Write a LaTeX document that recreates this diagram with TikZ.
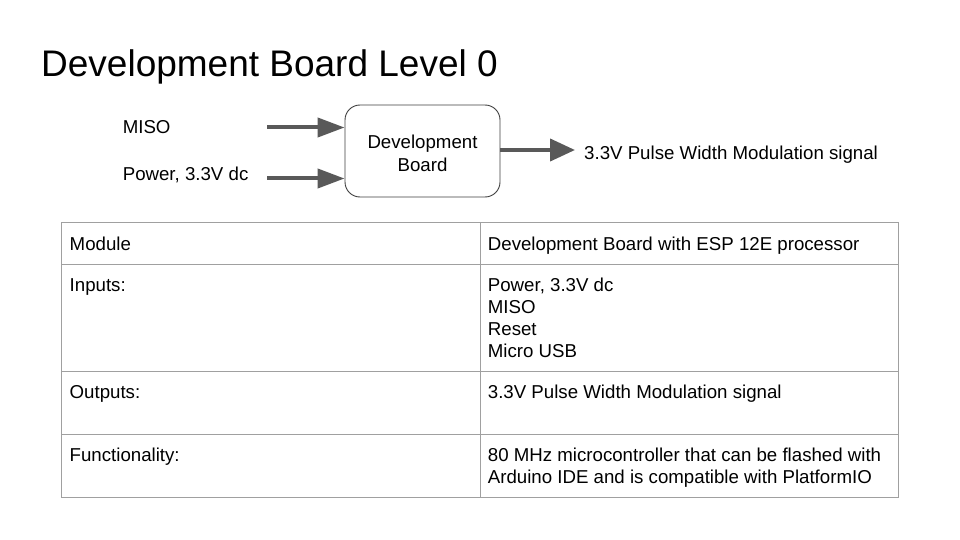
\documentclass[tikz,border=0pt]{standalone}
\usepackage{fontspec}
\setmainfont{Liberation Sans}
\usetikzlibrary{arrows.meta,positioning}
\definecolor{arrowgray}{HTML}{595959}
\definecolor{gridgray}{HTML}{A0A0A0}
\definecolor{boxgray}{HTML}{3F3F3F}
\begin{document}
\begin{tikzpicture}[x=1pt,y=-1pt,
  body/.style={font=\fontsize{18.67}{22}\selectfont, inner sep=0pt, anchor=base west},
  boxtext/.style={font=\fontsize{18.67}{22}\selectfont, inner sep=0pt, anchor=base},
  inarrow/.style={draw=arrowgray, line width=4pt, -{Triangle[length=27pt,width=19pt]}},
  outarrow/.style={draw=arrowgray, line width=4pt, -{Triangle[length=25pt,width=22pt]}},
  gridline/.style={draw=gridgray, line width=1pt},
  boardbox/.style={draw=boxgray, line width=0.9pt, rounded corners=15pt, minimum width=155pt, minimum height=92pt, inner sep=0pt}]
\useasboundingbox[fill=white] (0,0) rectangle (960,540);
% title
\node[inner sep=0pt, anchor=base west, font=\fontsize{37}{44}\selectfont] (title) at (41,76.7) {Development Board Level 0};
% diagram
\node[boardbox] (board) at (422.5,151) {};
\node[boxtext] (boardl1) at (422.5,148.3) {Development};
\node[boxtext] (boardl2) at (422.5,171.7) {Board};
\node[body] (miso) at (122.6,133.3) {MISO};
\node[body] (pwr) at (122.6,181) {Power, 3.3V dc};
\node[body] (pwm) at (584,159.7) {3.3V Pulse Width Modulation signal};
\coordinate (misostart) at (267,127.5);
\coordinate (pwrstart) at (267,178.5);
\coordinate (pwmend) at (575,150);
\draw[inarrow] (misostart) -- (board.west |- misostart);
\draw[inarrow] (pwrstart) -- (board.west |- pwrstart);
\draw[outarrow] (board.east |- pwmend) -- (pwmend);
% table grid
\draw[gridline] (61,222.5) rectangle (898.5,497.5);
\draw[gridline] (480.7,222.5) -- (480.7,497.5);
\draw[gridline] (61,264.5) -- (898.5,264.5);
\draw[gridline] (61,371) -- (898.5,371);
\draw[gridline] (61,434) -- (898.5,434);
% table text
\node[body] (c11) at (69.5,250) {Module};
\node[body] (c12) at (487.7,250) {Development Board with ESP 12E processor};
\node[body] (c21) at (69.5,291.5) {Inputs:};
\node[body] (c22a) at (487.7,291.5) {Power, 3.3V dc};
\node[body] (c22b) at (487.7,313.5) {MISO};
\node[body] (c22c) at (487.7,335.5) {Reset};
\node[body] (c22d) at (487.7,357.5) {Micro USB};
\node[body] (c31) at (69.5,398) {Outputs:};
\node[body] (c32) at (487.7,398) {3.3V Pulse Width Modulation signal};
\node[body] (c41) at (69.5,461.5) {Functionality:};
\node[body] (c42a) at (487.7,461.5) {80 MHz microcontroller that can be flashed with};
\node[body] (c42b) at (487.7,483.5) {Arduino IDE and is compatible with PlatformIO};
\end{tikzpicture}
\end{document}
